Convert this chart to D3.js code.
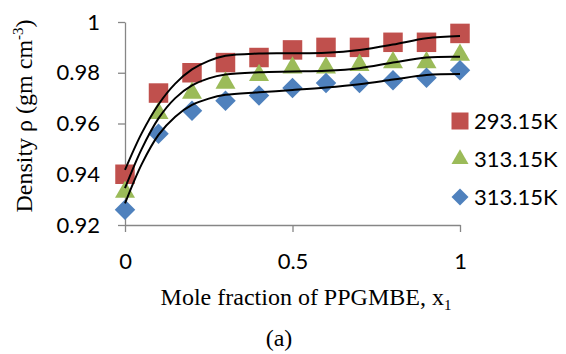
<!DOCTYPE html>
<html>
<head>
<meta charset="utf-8">
<script src="https://cdn.jsdelivr.net/npm/d3@7"></script>
<style>
  html, body { margin: 0; padding: 0; background: #fff; }
  svg { display: block; }
</style>
</head>
<body>
<svg id="chart" width="566" height="354"></svg>
<script>
// ---- data ----
const xValues = [0, 0.1, 0.2, 0.3, 0.4, 0.5, 0.6, 0.7, 0.8, 0.9, 1.0];
const seriesNames = ["293.15K", "313.15K", "313.15K"];
const density293 = [0.940, 0.972, 0.980, 0.984, 0.986, 0.989, 0.990, 0.990, 0.992, 0.992, 0.9955];
const density313a = [0.933, 0.964, 0.972, 0.976, 0.979, 0.982, 0.982, 0.983, 0.984, 0.984, 0.987];
const density313b = [0.926, 0.956, 0.965, 0.969, 0.971, 0.974, 0.976, 0.976, 0.977, 0.978, 0.981];

// trend (fit) curves
const fitX = [0, 0.05, 0.1, 0.15, 0.2, 0.25, 0.3, 0.4, 0.5, 0.6, 0.7, 0.8, 0.9, 1.0];
const fit293 = [0.9417, 0.9562, 0.9675, 0.9757, 0.9813, 0.9847, 0.9867, 0.9876, 0.9877, 0.9879, 0.9890, 0.9911, 0.9936, 0.9945];
const fit313a = [0.9345, 0.9500, 0.9620, 0.9700, 0.9750, 0.9778, 0.9793, 0.9802, 0.9805, 0.9808, 0.9818, 0.9840, 0.9860, 0.9863];
const fit313b = [0.9285, 0.9440, 0.9555, 0.9627, 0.9673, 0.9698, 0.9713, 0.9723, 0.9732, 0.9742, 0.9755, 0.9773, 0.9791, 0.9795];

const xTicks = [0, 0.5, 1];
const xTickLabels = ["0", "0.5", "1"];
const yTicks = [0.92, 0.94, 0.96, 0.98, 1];
const yTickLabels = ["0.92", "0.94", "0.96", "0.98", "1"];

// ---- layout ----
const svg = d3.select("#chart");
const x = d3.scaleLinear().domain([0, 1]).range([125, 460]);
const y = d3.scaleLinear().domain([0.92, 1]).range([225, 22]);

const axisColor = "#868686";
const tickFont = "Lato, 'Open Sans', sans-serif";
const serif = "'Liberation Serif', 'Times New Roman', serif";

// axes
const yAxis = svg.append("g").attr("transform", "translate(125,0)")
  .call(d3.axisLeft(y).tickValues(yTicks).tickSize(7).tickSizeOuter(0)
    .tickFormat((d, i) => yTickLabels[i]).tickPadding(18));
const xAxis = svg.append("g").attr("transform", "translate(0,225)")
  .call(d3.axisBottom(x).tickValues(xTicks).tickSize(7).tickSizeOuter(0)
    .tickFormat((d, i) => xTickLabels[i]).tickPadding(21));
[yAxis, xAxis].forEach(g => {
  g.selectAll("path.domain").attr("stroke", axisColor).attr("stroke-width", 1.3);
  g.selectAll(".tick line").attr("stroke", axisColor).attr("stroke-width", 1.3);
  g.selectAll(".tick text").attr("fill", "#000").style("font-family", tickFont).style("font-size", "22px");
});

// series
const series = [
  { name: seriesNames[0], vals: density293, fit: fit293, color: "#C0504D", shape: "square" },
  { name: seriesNames[1], vals: density313a, fit: fit313a, color: "#9BBB59", shape: "triangle" },
  { name: seriesNames[2], vals: density313b, fit: fit313b, color: "#4F81BD", shape: "diamond" }
];

function shapePath(shape, s) {
  if (shape === "square") return d3.symbol(d3.symbolSquare, s * s)();
  if (shape === "triangle") return d3.symbol(d3.symbolTriangle, Math.sqrt(3) / 4 * s * s)();
  return d3.symbol(d3.symbolSquare, (s * s) / 2)();
}
function shapeTransform(shape, cx, cy) {
  return shape === "diamond" ? `translate(${cx},${cy}) rotate(45)` : `translate(${cx},${cy})`;
}

const markerSize = { square: 19.5, triangle: 20, diamond: 20.5 };
series.forEach(sr => {
  svg.append("g").selectAll("path")
    .data(xValues.map((xv, i) => [xv, sr.vals[i]]))
    .join("path")
    .attr("d", shapePath(sr.shape, markerSize[sr.shape]))
    .attr("transform", d => shapeTransform(sr.shape, x(d[0]), y(d[1])))
    .attr("fill", sr.color);
});

// fit lines on top
const line = d3.line().x(d => x(d[0])).y(d => y(d[1])).curve(d3.curveCatmullRom.alpha(0.5));
series.forEach(sr => {
  svg.append("path")
    .attr("d", line(fitX.map((xv, i) => [xv, sr.fit[i]])))
    .attr("fill", "none").attr("stroke", "#000").attr("stroke-width", 2);
});

// legend
const legendY = [121, 159, 197];
series.forEach((sr, i) => {
  svg.append("path")
    .attr("d", shapePath(sr.shape, 17))
    .attr("transform", shapeTransform(sr.shape, 460, legendY[i]))
    .attr("fill", sr.color);
  svg.append("text")
    .attr("x", 474).attr("y", legendY[i]).attr("dy", "0.36em")
    .style("font-family", tickFont).style("font-size", "22px")
    .text(sr.name);
});

// axis titles
const xt = svg.append("text")
  .attr("x", 306).attr("y", 305).attr("text-anchor", "middle")
  .style("font-family", serif).style("font-size", "24px");
xt.append("tspan").text("Mole fraction of PPGMBE, x");
xt.append("tspan").attr("dy", 5).style("font-size", "15px").text("1");

const yt = svg.append("text")
  .attr("transform", "translate(32,116) rotate(-90)")
  .attr("text-anchor", "middle")
  .style("font-family", serif).style("font-size", "24px");
yt.append("tspan").text("Density ρ (gm cm");
yt.append("tspan").attr("dy", -9).style("font-size", "15px").text("-3");
yt.append("tspan").attr("dy", 9).text(")");

svg.append("text")
  .attr("x", 279).attr("y", 346).attr("text-anchor", "middle")
  .style("font-family", serif).style("font-size", "24px")
  .text("(a)");
</script>
</body>
</html>
